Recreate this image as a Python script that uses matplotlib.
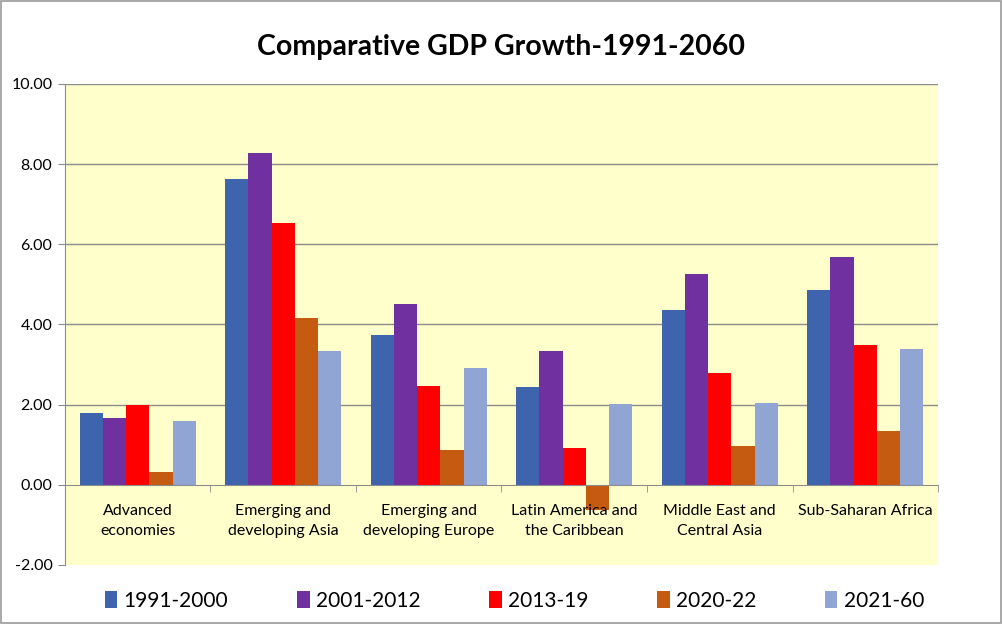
import matplotlib.pyplot as plt
import matplotlib.patches as patches
import numpy as np

regions = ['Advanced\neconomies', 'Emerging and\ndeveloping Asia', 'Emerging and\ndeveloping Europe',
           'Latin America and\nthe Caribbean', 'Middle East and\nCentral Asia', 'Sub-Saharan Africa']
periods = ['1991-2000', '2001-2012', '2013-19', '2020-22', '2021-60']

g1991 = [1.79, 7.63, 3.75, 2.44, 4.35, 4.87]
g2001 = [1.66, 8.28, 4.51, 3.33, 5.25, 5.69]
g2013 = [1.98, 6.53, 2.47, 0.91, 2.78, 3.48]
g2020 = [0.32, 4.16, 0.87, -0.64, 0.97, 1.34]
g2021 = [1.58, 3.35, 2.91, 2.01, 2.04, 3.39]

colors = ['#3D64AC', '#7030A0', '#FF0000', '#C55A11', '#91A5D4']
yticks = [-2, 0, 2, 4, 6, 8, 10]

plt.rcParams['font.family'] = ['Lato', 'DejaVu Sans']

fig = plt.figure(figsize=(10.03, 6.24), dpi=100)
fig.patches.append(patches.Rectangle((0.001, 0.002), 0.997, 0.996, transform=fig.transFigure,
                                     fill=False, edgecolor='#9a9a9a', linewidth=1.2))
ax = fig.add_axes([0.0648, 0.0946, 0.8704, 0.7708])
ax.set_facecolor('#FFFFCC')

x = np.arange(len(regions))
w = 0.16
series = [g1991, g2001, g2013, g2020, g2021]
for i, vals in enumerate(series):
    ax.bar(x + (i - 2) * w, vals, w, color=colors[i], label=periods[i], zorder=3)

ax.set_xlim(-0.5, len(regions) - 0.5)
ax.set_ylim(-2, 10)
ax.set_yticks(yticks)
ax.set_yticklabels(['%.2f' % t for t in yticks], fontsize=11.5)
for t in yticks:
    if t > 0:
        ax.axhline(t, color='#8c8c8c', linewidth=1, zorder=1)

ax.spines['top'].set_visible(False)
ax.spines['right'].set_visible(False)
ax.spines['left'].set_color('#8c8c8c')
ax.spines['bottom'].set_position(('data', 0))
ax.spines['bottom'].set_color('#8c8c8c')
ax.spines['bottom'].set_zorder(4)
ax.tick_params(axis='y', length=5, color='#8c8c8c', pad=4)
ax.set_xticks(x)
ax.set_xticklabels([])
ax.tick_params(axis='x', which='major', length=0)
ax.set_xticks(np.arange(len(regions) + 1) - 0.5, minor=True)
ax.tick_params(axis='x', which='minor', length=5, color='#8c8c8c', direction='out')

# category names sit inside the plot, just under the zero line
for i, r in enumerate(regions):
    ax.text(x[i], -0.48, r, ha='center', va='top', fontsize=11.5, linespacing=1.5, zorder=5)

fig.text(0.5, 0.925, 'Comparative GDP Growth-1991-2060', ha='center', va='center',
         fontsize=20.5, fontweight='bold')

fig.legend(loc='center', bbox_to_anchor=(0.513, 0.037), ncol=5, frameon=False, fontsize=15,
           handlelength=0.6, handleheight=0.9, handletextpad=0.3, columnspacing=3.3)

plt.savefig('out.png', dpi=100)
plt.close()
